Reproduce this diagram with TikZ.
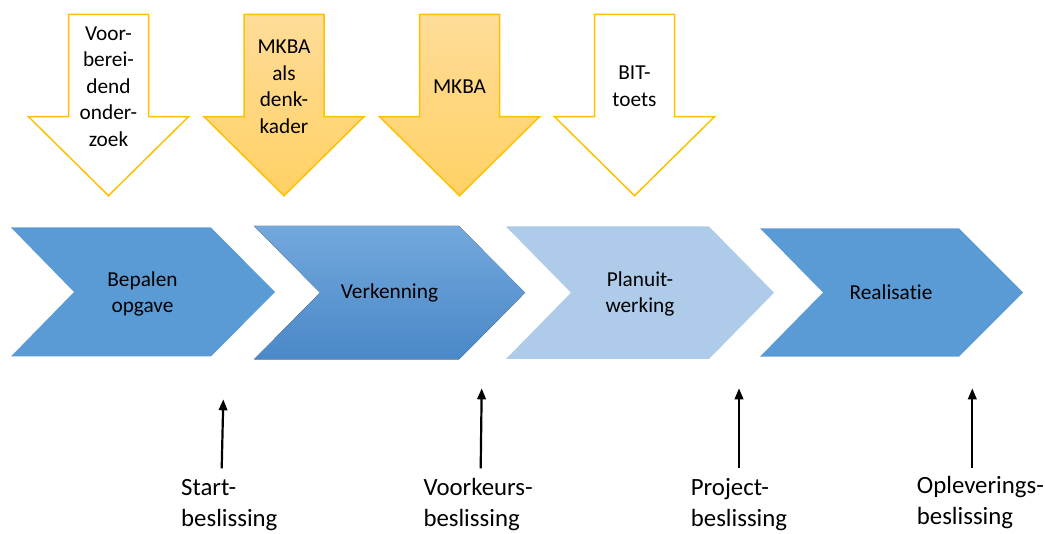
\documentclass[tikz,border=0pt]{standalone}
\usepackage{fontspec}
\setmainfont{Carlito}[Ligatures=NoCommon]
\usepackage{tikz}
\usetikzlibrary{arrows.meta}

\definecolor{chevblue}{RGB}{91,155,213}
\definecolor{chevlight}{RGB}{174,203,233}
\definecolor{chevtop}{RGB}{115,168,220}
\definecolor{chevbot}{RGB}{74,136,200}
\definecolor{inputline}{RGB}{255,192,0}
\definecolor{inputtop}{RGB}{255,220,153}
\definecolor{inputbot}{RGB}{255,209,100}

\tikzset{
  input/.style={draw=inputline, line width=1.5pt, line join=miter},
  inputfull/.style={input, top color=inputtop, bottom color=inputbot},
  phase/.style={fill=chevblue, draw=none},
  intext/.style={align=center, inner sep=0pt, font=\fontsize{21.3}{26.5}\selectfont},
  decision/.style={line width=2.2pt, -{Triangle[length=11pt,width=8.5pt]}},
  dectext/.style={align=left, anchor=base west, inner sep=0pt, font=\fontsize{24.8}{31.5}\selectfont}
}

\begin{document}
\begin{tikzpicture}[x=1pt, y=-1pt]
\useasboundingbox (0,0) rectangle (1045,534);

\draw[input, fill=white] (68.5,14.5) -- (148.5,14.5) -- (148.5,116.7) -- (188.5,116.7) -- (108.5,195.7) -- (28.5,116.7) -- (68.5,116.7) -- cycle;
\draw[inputfull] (244,14.5) -- (324,14.5) -- (324,116.7) -- (364,116.7) -- (284,195.7) -- (204,116.7) -- (244,116.7) -- cycle;
\draw[inputfull] (419.5,14.5) -- (499.5,14.5) -- (499.5,116.7) -- (539.5,116.7) -- (459.5,195.7) -- (379.5,116.7) -- (419.5,116.7) -- cycle;
\draw[input, fill=white] (594.5,14.5) -- (674.5,14.5) -- (674.5,116.7) -- (714.5,116.7) -- (634.5,195.7) -- (554.5,116.7) -- (594.5,116.7) -- cycle;

\node[intext] (Voor) at (108.5,86.5) {Voor-\\berei-\\dend\\onder-\\zoek};
\node[intext] (Denk) at (284,86.7) {MKBA\\als\\denk-\\kader};
\node[intext] (Mkba) at (459.5,86.7) {MKBA};
\node[intext] (Bit) at (634.5,86.2) {BIT-\\toets};

\fill[phase] (11,227.5) -- (211,227.5) -- (275,292) -- (211,356.5) -- (11,356.5) -- (74,292) -- cycle;
\fill[top color=chevtop, middle color=chevblue, bottom color=chevbot] (254,226) -- (459,226) -- (525,292.7) -- (459,359.5) -- (254,359.5) -- (320,292.7) -- cycle;
\fill[phase, fill=chevlight] (506,226.5) -- (709,226.5) -- (774,292.7) -- (709,359) -- (506,359) -- (571,292.7) -- cycle;
\fill[phase] (760,228.3) -- (959,228.3) -- (1023,292.5) -- (959,356.7) -- (760,356.7) -- (823,292.5) -- cycle;

\node[intext] (Bep) at (142.5,294) {Bepalen\\opgave};
\node[intext] (Verk) at (389.5,293) {Verkenning};
\node[intext] (Plan) at (640,294) {Planuit-\\werking};
\node[intext] (Real) at (891,292.5) {Realisatie};

\node[dectext] (Start) at (181,526.5) {Start-\\beslissing};
\node[dectext] (Voork) at (423.3,526.5) {Voorkeurs-\\beslissing};
\node[dectext] (Proj) at (690.7,526.5) {Project-\\beslissing};
\node[dectext] (Oplev) at (916.7,524.8) {Opleverings-\\beslissing};

\coordinate (s1) at (221.7,468.3);
\coordinate (t1) at (223.3,399.3);
\coordinate (s2) at (480.7,468.3);
\coordinate (t2) at (481.7,388.3);
\coordinate (s3) at (739,468.3);
\coordinate (t3) at (739,388.3);
\coordinate (s4) at (972.3,468.3);
\coordinate (t4) at (972.3,388.3);

\draw[decision] (s1) -- (t1);
\draw[decision] (s2) -- (t2);
\draw[decision] (s3) -- (t3);
\draw[decision] (s4) -- (t4);

\end{tikzpicture}
\end{document}
